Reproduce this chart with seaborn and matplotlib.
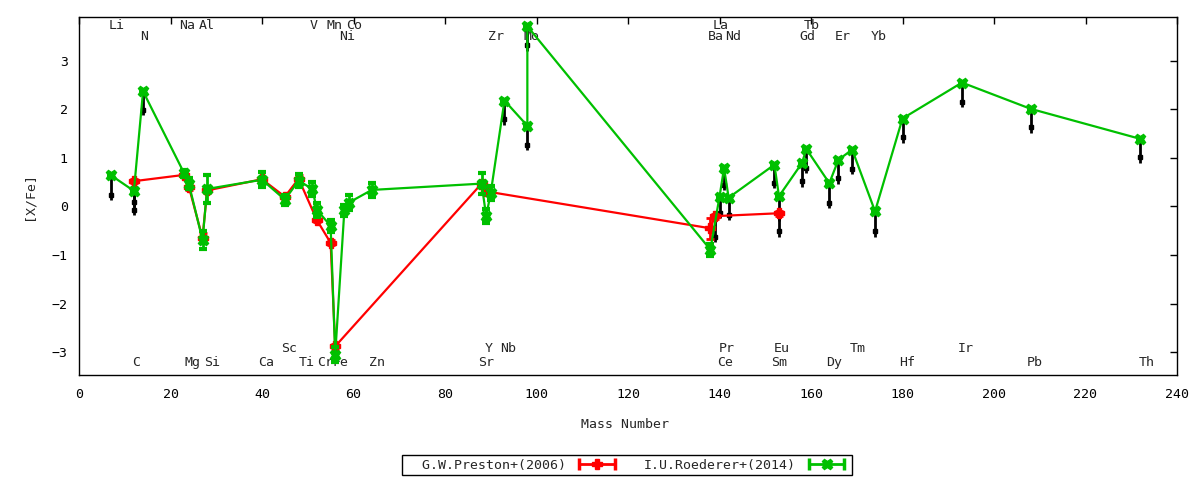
import matplotlib
matplotlib.use('Agg')
import matplotlib.pyplot as plt
from matplotlib.lines import Line2D
from matplotlib.legend_handler import HandlerLine2D, HandlerTuple
import seaborn as sns
import pandas as pd

# I.U.Roederer+(2014)  (mass number, [X/Fe], error)
roed_A = [7, 12, 14, 23, 24, 27, 28, 40, 45, 48, 51, 52, 55, 56, 58, 59, 64,
          88, 89, 90, 93, 98, 98, 138, 140, 141, 142, 152, 153, 158, 159,
          164, 166, 169, 174, 180, 193, 208, 232]
roed_y = [0.64, 0.32, 2.37, 0.68, 0.47, -0.69, 0.36, 0.55, 0.14, 0.53, 0.36,
          -0.07, -0.40, -3.05, -0.08, 0.08, 0.34, 0.47, -0.20, 0.28, 2.18,
          1.66, 3.71, -0.89, 0.20, 0.79, 0.18, 0.86, 0.21, 0.89, 1.18, 0.48,
          0.96, 1.17, -0.10, 1.81, 2.55, 2.01, 1.39]
roed_err = [0, 0, 0, 0.08, 0.12, 0.18, 0.28, 0.15, 0.10, 0.13, 0.15, 0.15,
            0.13, 0.15, 0.12, 0.15, 0.15, 0.22, 0.15, 0.15, 0, 0, 0, 0.12,
            0, 0, 0, 0, 0, 0, 0, 0, 0, 0, 0, 0, 0, 0, 0]

# G.W.Preston+(2006)
prest_A = [12, 23, 24, 27, 28, 40, 45, 48, 52, 55, 56, 88, 89, 138, 139, 153]
prest_y = [0.52, 0.65, 0.41, -0.65, 0.33, 0.56, 0.20, 0.57, -0.28, -0.75,
           -2.88, 0.47, 0.31, -0.45, -0.20, -0.14]
prest_err = [0.04, 0.05, 0.08, 0.10, 0.05, 0.05, 0.05, 0.08, 0.05, 0.05,
             0.05, 0.05, 0.05, 0.22, 0.05, 0.05]

# black down-shifted points (x, from, to)
blk_A = [7, 12, 12, 14, 93, 98, 98, 139, 140, 141, 142, 152, 153, 153, 158,
         159, 164, 166, 169, 174, 180, 193, 208, 232]
blk_top = [0.64, 0.32, 0.52, 2.37, 2.18, 1.66, 3.71, -0.20, 0.20, 0.79, 0.18,
           0.86, 0.21, -0.14, 0.89, 1.18, 0.48, 0.96, 1.17, -0.10, 1.81, 2.55,
           2.01, 1.39]
blk_y = [0.24, -0.07, 0.10, 1.99, 1.79, 1.27, 3.32, -0.62, -0.13, 0.45, -0.17,
         0.48, -0.18, -0.51, 0.52, 0.79, 0.07, 0.58, 0.77, -0.51, 1.42, 2.16,
         1.63, 1.01]

# element labels (name, x) in four rows: two on top, two at the bottom
lab_top1 = [('Li', 8.2), ('Na', 23.7), ('Al', 27.9), ('V', 51.3), ('Mn', 55.8),
            ('Co', 60.2), ('La', 140.2), ('Tb', 160.2)]
lab_top2 = [('N', 14.2), ('Ni', 58.7), ('Zr', 91.1), ('Mo', 99.0), ('Ba', 139.3),
            ('Nd', 142.9), ('Gd', 159.1), ('Er', 166.9), ('Yb', 174.9)]
lab_bot1 = [('Sc', 46.0), ('Y', 89.5), ('Nb', 93.9), ('Pr', 141.6), ('Eu', 153.7),
            ('Tm', 170.2), ('Ir', 193.8)]
lab_bot2 = [('C', 12.4), ('Mg', 24.9), ('Si', 29.0), ('Ca', 40.8), ('Ti', 49.7),
            ('Cr', 53.8), ('Fe', 57.1), ('Zn', 65.2), ('Sr', 89.0), ('Ce', 141.2),
            ('Sm', 153.0), ('Dy', 165.1), ('Hf', 181.0), ('Pb', 209.0), ('Th', 233.4)]

sns.set_style('white')
plt.rcParams['font.family'] = ['DejaVu Sans Mono']
plt.rcParams['font.size'] = 9.5

RED = '#ff0000'
GREEN = '#00c000'

fig = plt.figure(figsize=(12, 4.8), dpi=100)
ax = fig.add_axes([79 / 1200, 1 - 375 / 480, 1098 / 1200, 358 / 480])

# black segments hanging under the points
ax.errorbar(blk_A, blk_y, yerr=[[0.11] * len(blk_y), [t - b for t, b in zip(blk_top, blk_y)]],
            fmt='s', color='black', ms=3.5, elinewidth=2, capsize=0, zorder=2)

df_p = pd.DataFrame({'A': prest_A, 'y': prest_y})
df_r = pd.DataFrame({'A': roed_A, 'y': roed_y})

sns.lineplot(data=df_p, x='A', y='y', sort=False, estimator=None, color=RED,
             lw=1.6, ax=ax, zorder=3)
ax.errorbar(prest_A, prest_y, yerr=prest_err, fmt='P', color=RED, ms=6.5,
            elinewidth=2, capsize=3, capthick=2, zorder=3)

sns.lineplot(data=df_r, x='A', y='y', sort=False, estimator=None, color=GREEN,
             lw=1.6, ax=ax, zorder=4)
ax.errorbar(roed_A, roed_y, yerr=roed_err, fmt='X', color=GREEN, ms=7.5,
            elinewidth=2, capsize=3, capthick=3, zorder=4)

for rows, yy in [(lab_top1, 3.72), (lab_top2, 3.49), (lab_bot1, -2.92), (lab_bot2, -3.22)]:
    for name, x in rows:
        ax.text(x, yy, name, ha='center', va='center', zorder=1)

ax.set_xlim(0, 240)
ax.set_ylim(-3.47, 3.9)
ax.set_xticks(range(0, 241, 20))
ax.set_yticks(range(-3, 4))
ax.tick_params(direction='in', length=5, width=1, top=True, right=True,
               colors='black')
ax.tick_params(axis='x', pad=9)
ax.tick_params(axis='y', pad=8)
for s in ax.spines.values():
    s.set_color('black')
    s.set_linewidth(1)

ax.set_xlabel('Mass Number')
ax.set_ylabel('[X/Fe]')
ax.xaxis.set_label_coords(0.497, -0.12)
ax.yaxis.set_label_coords(-0.04, 0.5)

# legend in gnuplot style: text then sample with end caps
cap_r = Line2D([], [], color=RED, lw=2, marker='|', ms=8, mew=2.5)
mk_r = Line2D([], [], color=RED, lw=0, marker='P', ms=6.5)
cap_g = Line2D([], [], color=GREEN, lw=2, marker='|', ms=8, mew=2.5)
mk_g = Line2D([], [], color=GREEN, lw=0, marker='X', ms=7.5)
hmap = {cap_r: HandlerLine2D(numpoints=2), cap_g: HandlerLine2D(numpoints=2),
        mk_r: HandlerLine2D(numpoints=1), mk_g: HandlerLine2D(numpoints=1),
        tuple: HandlerTuple(ndivide=1, pad=0)}
leg = fig.legend([(cap_r, mk_r), (cap_g, mk_g)],
                 ['  G.W.Preston+(2006)', 'I.U.Roederer+(2014)'],
                 loc='center', bbox_to_anchor=(0.5225, 0.031), ncol=2,
                 markerfirst=False, handlelength=3.3, handletextpad=0.7,
                 columnspacing=1.9, borderpad=0.25, fancybox=False,
                 edgecolor='black', framealpha=1, handler_map=hmap)
leg.get_frame().set_linewidth(1)

fig.savefig('out.png', dpi=100)
